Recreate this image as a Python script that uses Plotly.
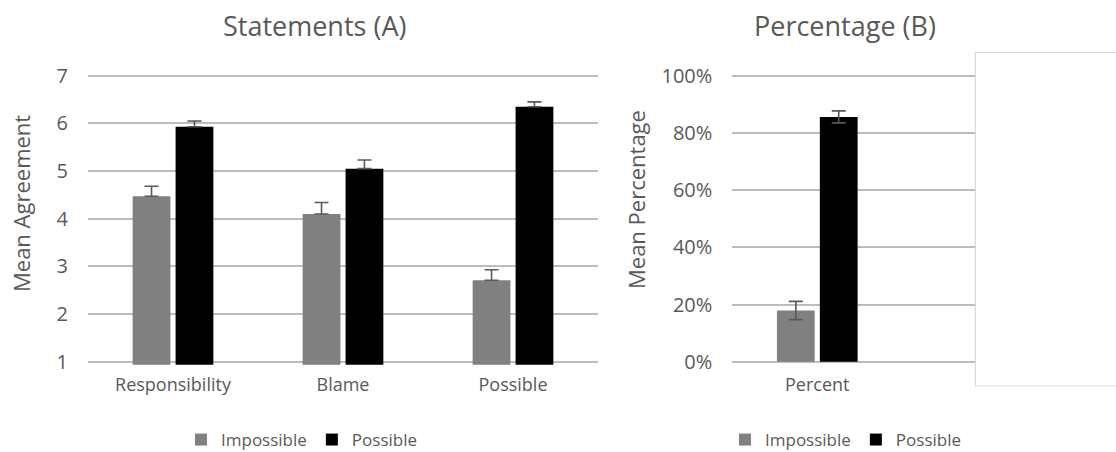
import plotly.graph_objects as go

# ---- data ----
categories_a = ["Responsibility", "Blame", "Possible"]
impossible_a = [4.47, 4.10, 2.71]
impossible_a_err = [0.21, 0.24, 0.22]
possible_a = [5.93, 5.05, 6.35]
possible_a_err = [0.12, 0.18, 0.10]

categories_b = ["Percent"]
impossible_b = [0.179]
impossible_b_err = [0.032]
possible_b = [0.856]
possible_b_err = [0.021]

series_names = ["Impossible", "Possible"]
ticks_a = [1, 2, 3, 4, 5, 6, 7]
ticks_b = [0, 0.2, 0.4, 0.6, 0.8, 1.0]

# ---- styles ----
FONT = "Open Sans"
TXT = "#595959"
GRAY = "#808080"
BLACK = "#000000"
GRID = "#bcbcbc"
ERR = "#595959"

W, H = 1116, 452

def px_x(p):
    return p / W

def px_y(p):
    return 1 - p / H

fig = go.Figure()

fig.add_trace(go.Bar(
    x=categories_a, y=impossible_a, name=series_names[0],
    marker=dict(color=GRAY, line=dict(width=0)),
    error_y=dict(type="data", array=impossible_a_err, arrayminus=[0] * 3,
                 symmetric=False, color=ERR, thickness=1.6, width=7),
    xaxis="x", yaxis="y", legend="legend",
))
fig.add_trace(go.Bar(
    x=categories_a, y=possible_a, name=series_names[1],
    marker=dict(color=BLACK, line=dict(width=0)),
    error_y=dict(type="data", array=possible_a_err, arrayminus=[0] * 3,
                 symmetric=False, color=ERR, thickness=1.6, width=7),
    xaxis="x", yaxis="y", legend="legend",
))
fig.add_trace(go.Bar(
    x=categories_b, y=impossible_b, name=series_names[0],
    marker=dict(color=GRAY, line=dict(width=0)),
    error_y=dict(type="data", array=impossible_b_err, color=ERR, thickness=1.6, width=7),
    xaxis="x2", yaxis="y2", legend="legend2",
))
fig.add_trace(go.Bar(
    x=categories_b, y=possible_b, name=series_names[1],
    marker=dict(color=BLACK, line=dict(width=0)),
    error_y=dict(type="data", array=possible_b_err, color=ERR, thickness=1.6, width=7),
    xaxis="x2", yaxis="y2", legend="legend2",
))

# plot area padded by 3 px so that the edge gridlines (1/7, 0%/100%) are drawn
ydom = [px_y(364.7), px_y(72.7)]

common_x = dict(showgrid=False, zeroline=False, showline=False, ticks="", automargin=False,
                tickfont=dict(family=FONT, size=18, color=TXT), ticklabelstandoff=7)
common_y = dict(showgrid=True, gridcolor=GRID, gridwidth=2, zeroline=False, automargin=False,
                showline=False, ticks="", tickfont=dict(family=FONT, size=20, color=TXT),
                ticklabelstandoff=19)

pad_a = 6 * 3.0 / 286
pad_b = 1.0 * 3.0 / 286

fig.update_layout(
    width=W, height=H,
    margin=dict(l=0, r=0, t=0, b=0, autoexpand=False),
    paper_bgcolor="white", plot_bgcolor="white",
    barmode="group", bargap=0.495, bargroupgap=0.12,
    font=dict(family=FONT, color=TXT),
    xaxis=dict(domain=[px_x(88), px_x(598)], anchor="y", **common_x),
    yaxis=dict(domain=ydom, range=[1 - pad_a, 7 + pad_a], tickvals=ticks_a, anchor="x", **common_y),
    xaxis2=dict(domain=[px_x(732.3), px_x(975)], anchor="y2", range=[-0.5, 0.928], **common_x),
    yaxis2=dict(domain=ydom, range=[0 - pad_b, 1 + pad_b], tickvals=ticks_b, tickformat=".0%",
                anchor="x2", **common_y),
    legend=dict(orientation="h", x=px_x(302), xanchor="center", y=px_y(440), yanchor="middle",
                font=dict(family=FONT, size=17, color=TXT), bgcolor="rgba(0,0,0,0)"),
    legend2=dict(orientation="h", x=px_x(846), xanchor="center", y=px_y(440), yanchor="middle",
                 font=dict(family=FONT, size=17, color=TXT), bgcolor="rgba(0,0,0,0)"),
    showlegend=True,
)

# titles and axis titles
fig.add_annotation(text="Statements (A)", x=px_x(314), y=px_y(25), xref="paper", yref="paper",
                   showarrow=False, font=dict(family=FONT, size=27, color=TXT),
                   xanchor="center", yanchor="middle")
fig.add_annotation(text="Percentage (B)", x=px_x(845), y=px_y(25), xref="paper", yref="paper",
                   showarrow=False, font=dict(family=FONT, size=27, color=TXT),
                   xanchor="center", yanchor="middle")
fig.add_annotation(text="Mean Agreement", x=px_x(21), y=px_y(204), xref="paper", yref="paper",
                   showarrow=False, textangle=-90, font=dict(family=FONT, size=22, color=TXT),
                   xanchor="center", yanchor="middle")
fig.add_annotation(text="Mean Percentage", x=px_x(636), y=px_y(200), xref="paper", yref="paper",
                   showarrow=False, textangle=-90, font=dict(family=FONT, size=22, color=TXT),
                   xanchor="center", yanchor="middle")

# white panel covering the right side
fig.add_shape(type="rect", xref="paper", yref="paper",
              x0=px_x(975.5), x1=1.01, y0=px_y(386), y1=px_y(52.7),
              fillcolor="white", line=dict(color="#d9d9d9", width=1.2), layer="above")

fig.write_html("out.html", post_script="document.body.style.margin='0';document.body.style.overflow='hidden';",
               config={"displayModeBar": False})
